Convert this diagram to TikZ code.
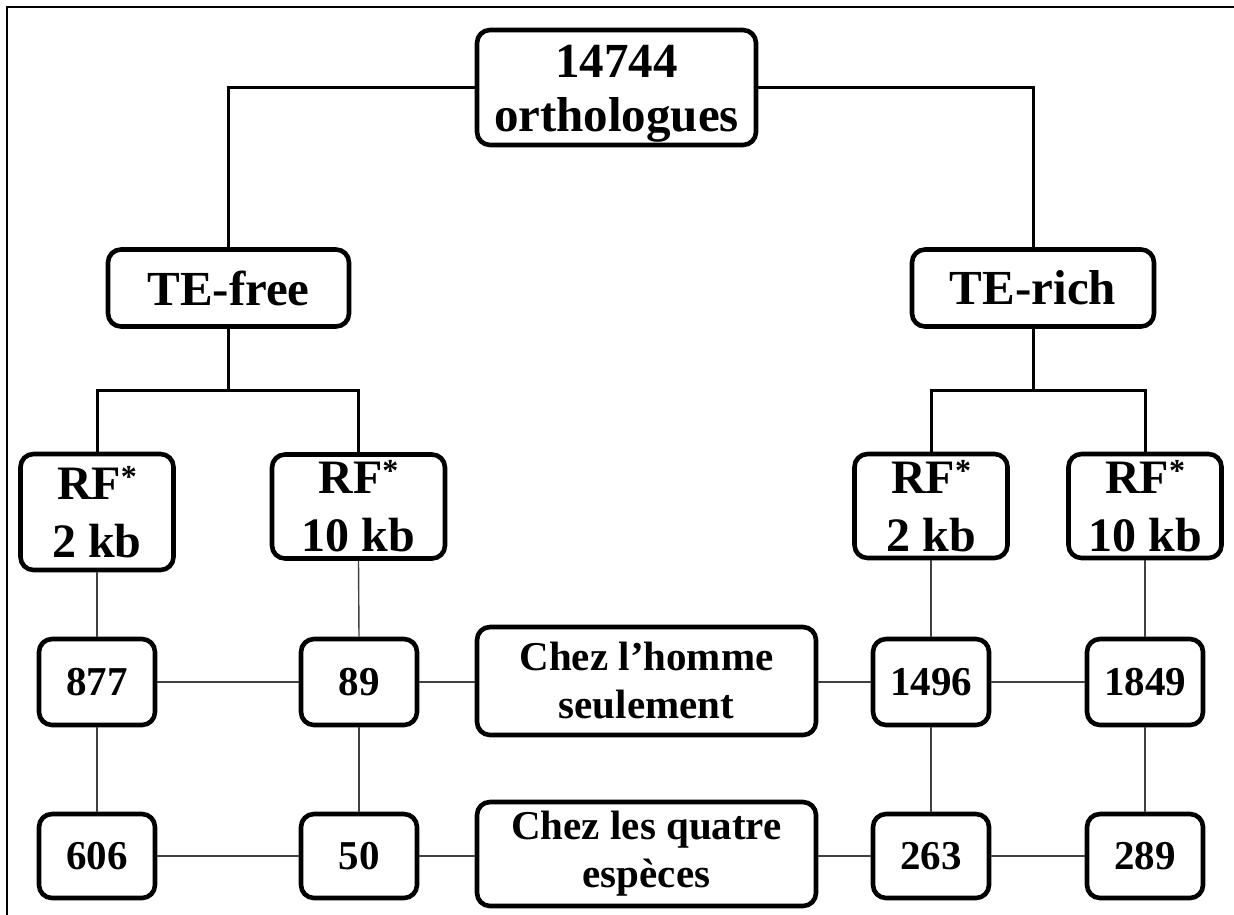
\documentclass[tikz,border=0pt]{standalone}
\usepackage{fontspec}
\setmainfont{Liberation Serif}
\newcommand{\rfstar}{RF\raisebox{0.55ex}{\fontsize{32}{32}\selectfont *}}
\begin{document}
\begin{tikzpicture}[x=1pt,y=-1pt,
  box/.style={draw, line width=4.6pt, rounded corners=13pt, inner sep=0pt, align=center,
    font=\bfseries\fontsize{41}{48}\selectfont},
  bigtext/.style={font=\bfseries\fontsize{49}{54}\selectfont},
  rftext/.style={font=\bfseries\fontsize{48}{58}\selectfont},
  numbox/.style={box, minimum width=116pt, minimum height=86pt},
  rfbox/.style={box, rftext, minimum width=153pt, minimum height=104pt},
  treeline/.style={line width=3pt},
  gridline/.style={line width=1.4pt, black!75}]
\useasboundingbox (0,0) rectangle (1234,915);
\draw[line width=1.5pt] (7,915) -- (7,7) -- (1234,7);

% nodes
\node[box, bigtext, minimum width=279pt, minimum height=115pt] (top) at (616.5,87.5) {\rule{0pt}{44pt}14744\\orthologues};
\node[box, bigtext, minimum width=241pt, minimum height=77pt] (tefree) at (228.5,288) {TE-free};
\node[box, bigtext, minimum width=242pt, minimum height=77pt] (terich) at (1033,288) {TE-rich};

\node[rfbox, minimum height=116pt] (rf1) at (97,512) {\rfstar\\2 kb};
\node[rfbox, minimum width=173pt] (rf2) at (358.5,506.5) {\rfstar\\10 kb};
\node[rfbox] (rf3) at (931,506) {\rfstar\\2 kb};
\node[rfbox] (rf4) at (1145,506) {\rfstar\\10 kb};

\node[numbox] (a1) at (97,682) {877};
\node[numbox] (b1) at (359,682) {89};
\node[numbox] (c1) at (931,682) {1496};
\node[numbox] (d1) at (1145,682) {1849};
\node[numbox, minimum height=84pt] (a2) at (97,856) {606};
\node[numbox, minimum height=84pt] (b2) at (359,856) {50};
\node[numbox, minimum height=84pt] (c2) at (931,856) {263};
\node[numbox, minimum height=84pt] (d2) at (1145,856) {289};

\node[box, minimum width=339pt, minimum height=108pt] (homme) at (646.5,681) {Chez l’homme\\seulement};
\node[box, minimum width=339pt, minimum height=104pt] (quatre) at (646.5,854) {Chez les quatre\\espèces};

% tree connectors
\coordinate (jl) at (228.5,390);
\coordinate (jr) at (1033,390);
\draw[treeline] (top.west) -| (tefree.north);
\draw[treeline] (top.east) -| (terich.north);
\draw[treeline] (tefree.south) -- (jl);
\draw[treeline] (terich.south) -- (jr);
\draw[treeline] (rf1.north) |- (jl) -| (rf2.north);
\draw[treeline] (rf3.north) |- (jr) -| (rf4.north);

% grid connectors
\draw[gridline] (rf1.south) -- (a1.north);
\draw[gridline] (rf2.south) -- (b1.north);
\draw[gridline] (rf3.south) -- (c1.north);
\draw[gridline] (rf4.south) -- (d1.north);
\draw[gridline] (a1.south) -- (a2.north);
\draw[gridline] (b1.south) -- (b2.north);
\draw[gridline] (c1.south) -- (c2.north);
\draw[gridline] (d1.south) -- (d2.north);
\draw[gridline] (a1.east) -- (b1.west);
\draw[gridline] (b1.east) -- (b1.east -| homme.west);
\draw[gridline] (c1.west -| homme.east) -- (c1.west);
\draw[gridline] (c1.east) -- (d1.west);
\draw[gridline] (a2.east) -- (b2.west);
\draw[gridline] (b2.east) -- (b2.east -| quatre.west);
\draw[gridline] (c2.west -| quatre.east) -- (c2.west);
\draw[gridline] (c2.east) -- (d2.west);
\end{tikzpicture}
\end{document}
